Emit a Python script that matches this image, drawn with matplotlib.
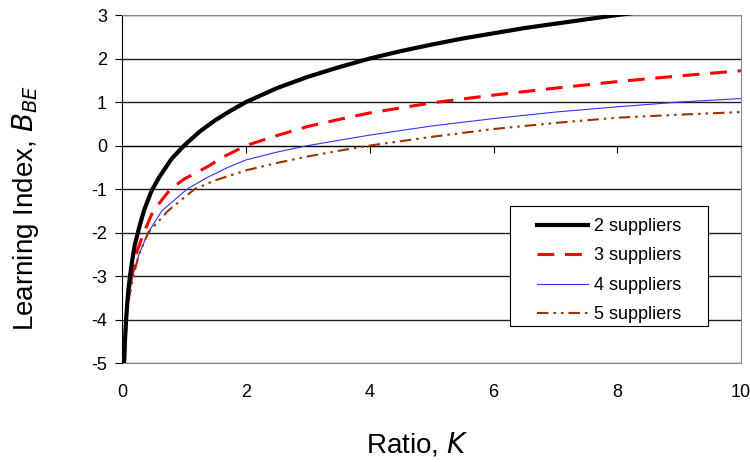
import numpy as np
import matplotlib
matplotlib.use("Agg")
import matplotlib.pyplot as plt
from matplotlib.patches import Rectangle

plt.rcParams["font.family"] = ["Liberation Sans", "DejaVu Sans"]
plt.rcParams["axes.unicode_minus"] = False

# values
k_2 = [0.03, 0.04, 0.06, 0.08, 0.1, 0.13, 0.16, 0.2, 0.27, 0.35, 0.47, 0.6, 0.8, 1.0, 1.25, 1.5, 1.75,
       2.0, 2.5, 3.0, 3.5, 4.0, 4.5, 5.0, 5.5, 6.0, 6.5, 7.0, 7.5, 8.0, 8.5]
b_2 = [-5.0, -4.6, -4.05, -3.65, -3.3, -2.95, -2.65, -2.3, -1.9, -1.5, -1.05, -0.72, -0.3, 0.0, 0.32, 0.58, 0.8,
       1.0, 1.32, 1.58, 1.8, 2.0, 2.17, 2.32, 2.46, 2.58, 2.7, 2.8, 2.9, 3.0, 3.09]

k_3 = [0.035, 0.06, 0.1, 0.15, 0.22, 0.35, 0.5, 0.78, 1.0, 1.36, 1.65, 2.0, 2.5, 3.0, 3.5, 4.0, 5.0, 6.0,
       7.0, 8.0, 9.0, 10.0]
b_3 = [-5.0, -4.0, -3.35, -3.0, -2.5, -2.0, -1.5, -1.0, -0.77, -0.5, -0.25, 0.0, 0.23, 0.44, 0.6, 0.75, 0.98, 1.16,
       1.32, 1.47, 1.6, 1.72]

k_4 = [0.04, 0.065, 0.1, 0.17, 0.27, 0.42, 0.64, 1.05, 1.35, 1.71, 2.0, 2.5, 3.0, 3.5, 4.0, 5.0, 6.0, 7.0,
       8.0, 9.0, 10.0]
b_4 = [-5.0, -4.0, -3.5, -3.0, -2.5, -2.0, -1.5, -1.0, -0.75, -0.5, -0.33, -0.15, 0.0, 0.12, 0.24, 0.45, 0.62, 0.77,
       0.89, 1.0, 1.08]

k_5 = [0.04, 0.065, 0.11, 0.18, 0.27, 0.42, 0.74, 1.17, 1.5, 2.0, 2.5, 3.0, 3.5, 4.0, 5.0, 6.0, 7.0, 8.0,
       9.0, 10.0]
b_5 = [-5.0, -4.0, -3.5, -3.0, -2.5, -2.0, -1.5, -1.0, -0.8, -0.57, -0.4, -0.25, -0.12, 0.0, 0.2, 0.38, 0.52, 0.64,
       0.71, 0.77]

x_ticks = [0, 2, 4, 6, 8, 10]
y_ticks = [-5, -4, -3, -2, -1, 0, 1, 2, 3]

fig = plt.figure(figsize=(7.5, 4.62), dpi=100)
ax = fig.add_axes([0.163, 0.214, 0.825, 0.7535])

for y in y_ticks:
    ax.axhline(y, color="#202020", lw=1.0, zorder=1)

ax.plot(k_2, b_2, color="black", lw=3.0, label="2 suppliers", zorder=5)
ax.plot(k_3, b_3, color="#ff0000", lw=2.2, dashes=(5.5, 3.5), label="3 suppliers", zorder=4)
ax.plot(k_4, b_4, color="#3333ff", lw=0.8, label="4 suppliers", zorder=3)
ax.plot(k_5, b_5, color="#993300", lw=1.5, dashes=(5.5, 2.4, 1.2, 2.4, 1.2, 2.4), label="5 suppliers", zorder=3)

ax.set_xlim(0, 10)
ax.set_ylim(-5, 3)
ax.set_yticks(y_ticks)
ax.set_yticklabels([str(y) for y in y_ticks], fontsize=13)

# x axis crosses at zero, labels sit at the bottom
ax.spines["bottom"].set_position(("data", 0))
ax.spines["bottom"].set_color("black")
ax.set_xticks(x_ticks)
ax.tick_params(axis="x", direction="out", length=5, labelbottom=False)
sec = ax.secondary_xaxis("bottom")
sec.set_xticks(x_ticks)
sec.set_xticklabels([str(x) for x in x_ticks], fontsize=13)
sec.tick_params(length=0, pad=15)
sec.spines["bottom"].set_color("#888888")
sec.set_xlabel("Ratio, $\\it{K}$", fontsize=20, labelpad=21, x=0.477)

ax.spines["top"].set_color("#888888")
ax.spines["right"].set_color("#888888")
ax.spines["left"].set_color("black")
ax.tick_params(axis="y", direction="out", length=5, pad=6)
ax.set_ylabel("Learning Index, $\\it{B}_{\\it{BE}}$", fontsize=20, labelpad=36, y=0.444)

# legend box (Excel style, wider side padding)
box = Rectangle((0.627, 0.106), 0.32, 0.345, transform=ax.transAxes, facecolor="white",
                edgecolor="black", lw=0.8, zorder=6)
ax.add_patch(box)
leg = ax.legend(loc="center", bbox_to_anchor=(0.627, 0.093, 0.32, 0.345), fontsize=13,
                frameon=False, handlelength=2.8, handletextpad=0.35, labelspacing=0.69,
                borderpad=0.3, borderaxespad=0)
leg.set_zorder(7)

fig.savefig("out.png", dpi=100)
